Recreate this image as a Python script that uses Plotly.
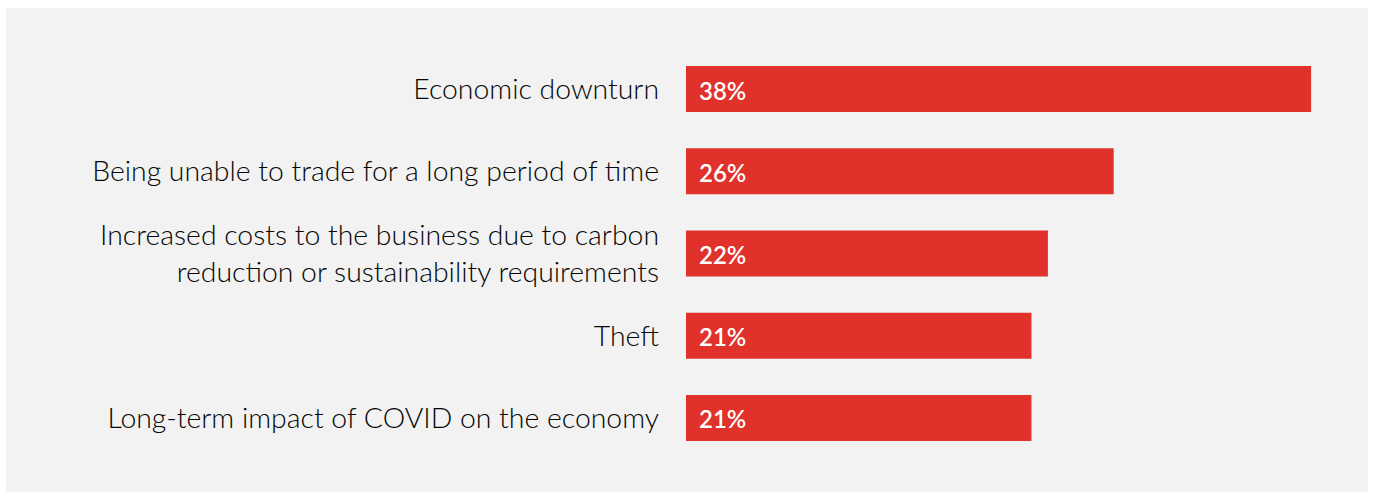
import plotly.graph_objects as go

# Survey responses: share of businesses naming each concern
categories = [
    "Economic downturn",
    "Being unable to trade for a long period of time",
    "Increased costs to the business due to carbon<br>reduction or sustainability requirements",
    "Theft",
    "Long-term impact of COVID on the economy",
]
values = [38, 26, 22, 21, 21]
value_labels = ["38%", "26%", "22%", "21%", "21%"]

BAR_RED = "#e0312a"
PANEL = "#f1f2f1"
TEXT = "#050505"
FONT = "Lato, 'Open Sans', sans-serif"

fig = go.Figure(
    go.Bar(
        x=values,
        y=categories,
        orientation="h",
        marker=dict(color=BAR_RED, line=dict(width=0)),
        hoverinfo="skip",
    )
)

# Value labels sitting inside the left end of each bar
for cat, lab in zip(categories, value_labels):
    fig.add_annotation(
        x=0, y=cat, text=lab, showarrow=False,
        xanchor="left", xshift=11, yshift=-1,
        font=dict(family=FONT, size=24, color="white", weight=600),
    )

# Light grey backing panel behind the whole chart
fig.add_shape(
    type="rect", xref="paper", yref="paper",
    x0=-1.0334, x1=1.0365, y0=-0.0803, y1=1.0973,
    fillcolor=PANEL, line=dict(width=0), layer="below",
)

fig.update_layout(
    width=1373, height=494,
    margin=dict(l=686, r=29, t=48, b=35),
    paper_bgcolor="white",
    plot_bgcolor="rgba(0,0,0,0)",
    bargap=0.44,
    showlegend=False,
    font=dict(family=FONT, color=TEXT),
    xaxis=dict(range=[0, 40], visible=False, fixedrange=True),
    yaxis=dict(
        autorange="reversed",
        showgrid=False, zeroline=False, showline=False,
        ticks="", ticklabelstandoff=26,
        tickfont=dict(family=FONT, size=28.4, color=TEXT, weight=300),
        fixedrange=True,
    ),
)

fig.write_html("out.html", config={"displayModeBar": False})
